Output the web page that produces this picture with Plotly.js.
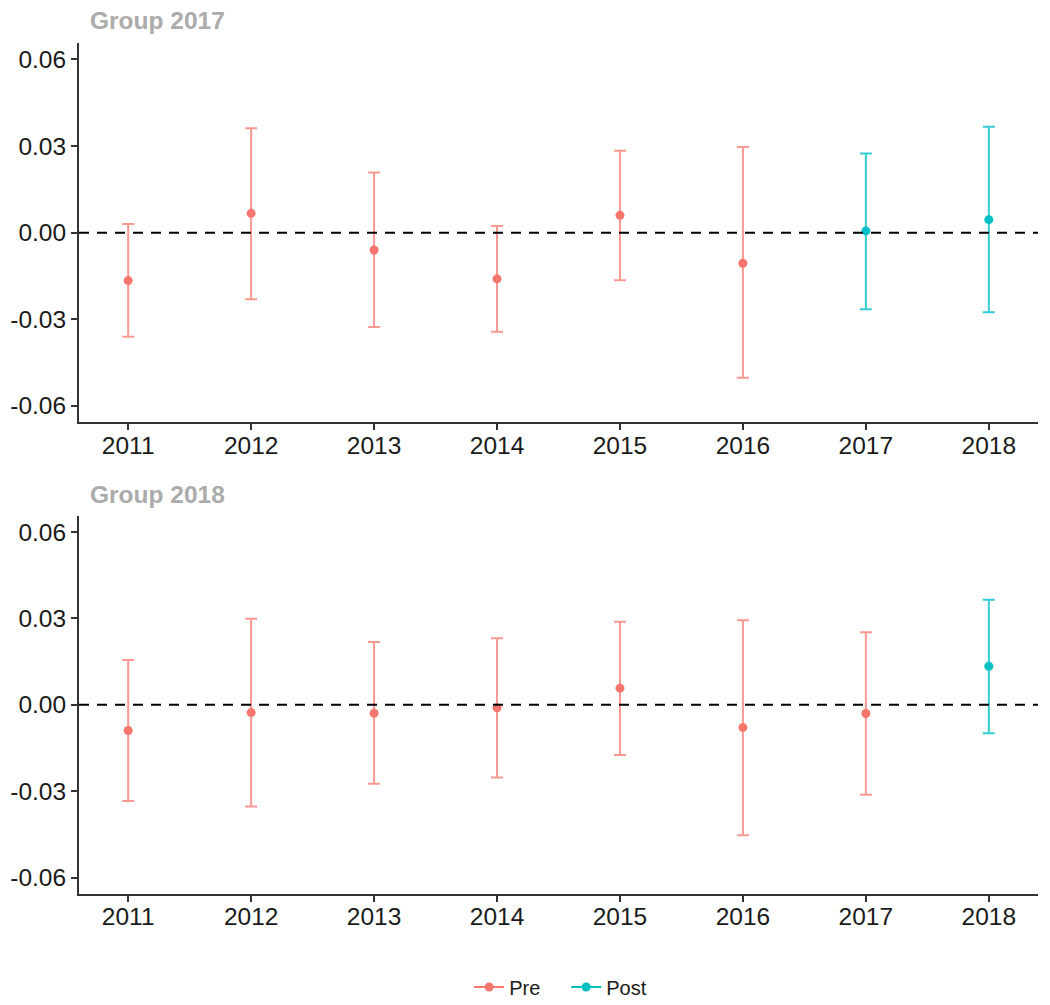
<!DOCTYPE html>
<html>
<head>
<meta charset="utf-8">
<script src="https://cdn.plot.ly/plotly-3.0.1.min.js"></script>
<style>html,body{margin:0;padding:0;background:#fff;}#chart{width:1050px;height:1005px;}</style>
</head>
<body>
<div id="chart"></div>
<script>
// ---- data ----
const years = ["2011","2012","2013","2014","2015","2016","2017","2018"];
const yTickVals = [0.06, 0.03, 0, -0.03, -0.06];
const yTickText = ["0.06", "0.03", "0.00", "-0.03", "-0.06"];
const panelTitles = ["Group 2017", "Group 2018"];
const seriesNames = ["Pre", "Post"];

// Group 2017
const g2017Est   = [-0.0166, 0.0067, -0.0060, -0.0160, 0.0060, -0.0106, 0.0006, 0.0045];
const g2017Upper = [ 0.0030, 0.0362,  0.0208,  0.0023, 0.0284,  0.0297, 0.0274, 0.0367];
const g2017Lower = [-0.0361,-0.0231, -0.0327, -0.0343,-0.0165, -0.0503,-0.0265,-0.0276];
const g2017Period = ["Pre","Pre","Pre","Pre","Pre","Pre","Post","Post"];

// Group 2018
const g2018Est   = [-0.0089,-0.0027,-0.0029,-0.0010, 0.0058,-0.0079,-0.0030, 0.0134];
const g2018Upper = [ 0.0156, 0.0299, 0.0218, 0.0231, 0.0289, 0.0294, 0.0252, 0.0365];
const g2018Lower = [-0.0334,-0.0353,-0.0274,-0.0252,-0.0174,-0.0453,-0.0312,-0.0099];
const g2018Period = ["Pre","Pre","Pre","Pre","Pre","Pre","Pre","Post"];

// ---- styling ----
const colors = {Pre: "#F8766D", Post: "#00BFC4"};
const barColors = {Pre: "rgba(248,118,109,0.75)", Post: "rgba(0,191,196,0.8)"};

function buildTraces(est, up, lo, period, xa, ya) {
  const out = [];
  seriesNames.forEach(name => {
    const idx = years.map((_, i) => i).filter(i => period[i] === name);
    if (!idx.length) return;
    out.push({
      type: "scatter", mode: "markers",
      x: idx.map(i => years[i]),
      y: idx.map(i => est[i]),
      xaxis: xa, yaxis: ya,
      showlegend: false,
      marker: {color: colors[name], size: 9},
      error_y: {
        type: "data", symmetric: false,
        array: idx.map(i => up[i] - est[i]),
        arrayminus: idx.map(i => est[i] - lo[i]),
        color: barColors[name], thickness: 2, width: 6
      },
      hoverinfo: "x+y"
    });
  });
  return out;
}

const traces = [
  ...buildTraces(g2017Est, g2017Upper, g2017Lower, g2017Period, "x", "y"),
  ...buildTraces(g2018Est, g2018Upper, g2018Lower, g2018Period, "x2", "y2")
];
// legend entries
seriesNames.forEach(name => {
  traces.push({
    type: "scatter", mode: "lines+markers",
    x: [null], y: [null], xaxis: "x", yaxis: "y",
    name: name, showlegend: true,
    line: {color: colors[name], width: 2},
    marker: {color: colors[name], size: 9}
  });
});

const FONT = "Liberation Sans, Arial, sans-serif";
const tickFont = {family: FONT, size: 24.5, color: "#1a1a1a"};
function xAxis(anchor) {
  return {
    type: "category", categoryorder: "array", categoryarray: years,
    range: [-0.4, 7.4], anchor: anchor,
    showline: true, linecolor: "#333", linewidth: 2,
    ticks: "outside", ticklen: 6, tickwidth: 2, tickcolor: "#333",
    ticklabelstandoff: -6,
    showgrid: false, zeroline: false, tickfont: tickFont, fixedrange: true,
    automargin: false
  };
}
function yAxis(anchor, domain) {
  return {
    domain: domain, anchor: anchor, range: [-0.0657, 0.0657],
    tickvals: yTickVals, ticktext: yTickText,
    showline: true, linecolor: "#333", linewidth: 2,
    ticks: "outside", ticklen: 6, tickwidth: 2, tickcolor: "#333",
    showgrid: false, zeroline: false, tickfont: tickFont, fixedrange: true,
    automargin: false
  };
}

const H = 1005, mt = 43, mb = 111;
const plotH = H - mt - mb;
const pyToPaper = py => (H - mb - py) / plotH;

const layout = {
  width: 1050, height: 1005,
  margin: {l: 79, r: 12, t: mt, b: mb, autoexpand: false},
  paper_bgcolor: "#fff", plot_bgcolor: "#fff",
  font: {family: FONT},
  xaxis: xAxis("y"),
  yaxis: yAxis("x", [pyToPaper(422.3), 1]),
  xaxis2: xAxis("y2"),
  yaxis2: yAxis("x2", [0, pyToPaper(515.7)]),
  showlegend: true,
  legend: {
    orientation: "h", x: 0.508, xanchor: "center",
    y: pyToPaper(987), yanchor: "middle",
    font: {family: FONT, size: 20, color: "#1a1a1a"},
    itemwidth: 30, entrywidth: 52, entrywidthmode: "pixels"
  },
  shapes: [
    {type: "line", xref: "x domain", yref: "y", x0: 0, x1: 1, y0: 0, y1: 0,
     line: {color: "#000", width: 2, dash: "10px,8px"}, layer: "above"},
    {type: "line", xref: "x2 domain", yref: "y2", x0: 0, x1: 1, y0: 0, y1: 0,
     line: {color: "#000", width: 2, dash: "10px,8px"}, layer: "above"}
  ],
  annotations: [
    {text: "<b>" + panelTitles[0] + "</b>", xref: "paper", yref: "paper",
     x: (88 - 79) / 959, xanchor: "left", y: pyToPaper(21), yanchor: "middle",
     showarrow: false, font: {family: FONT, size: 24.5, color: "#ababab"}},
    {text: "<b>" + panelTitles[1] + "</b>", xref: "paper", yref: "paper",
     x: (88 - 79) / 959, xanchor: "left", y: pyToPaper(495), yanchor: "middle",
     showarrow: false, font: {family: FONT, size: 24.5, color: "#ababab"}}
  ]
};

Plotly.newPlot("chart", traces, layout, {displayModeBar: false, staticPlot: true});
</script>
</body>
</html>
